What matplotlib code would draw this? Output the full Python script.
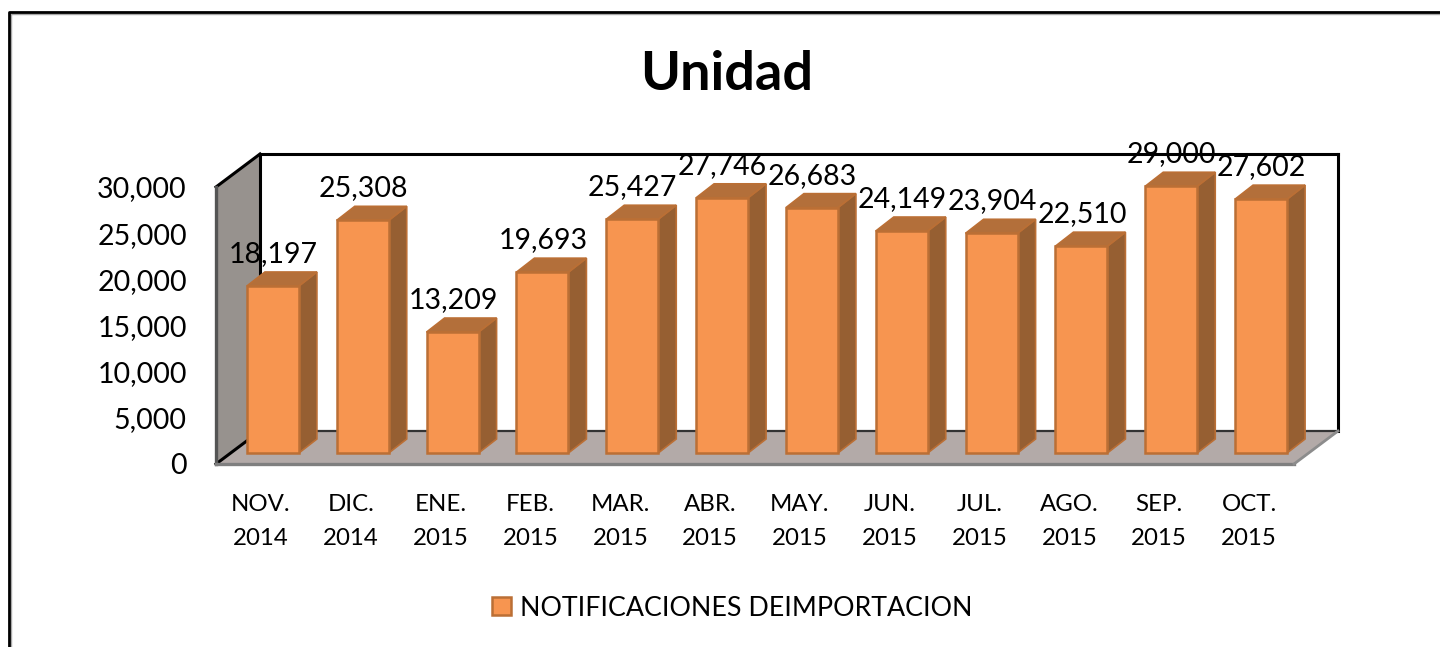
import matplotlib
matplotlib.use("Agg")
import matplotlib.pyplot as plt
from matplotlib.patches import Polygon, Patch
from matplotlib.lines import Line2D
from matplotlib.transforms import Affine2D

months = ["NOV.\n2014", "DIC.\n2014", "ENE.\n2015", "FEB.\n2015", "MAR.\n2015", "ABR.\n2015",
          "MAY.\n2015", "JUN.\n2015", "JUL.\n2015", "AGO.\n2015", "SEP.\n2015", "OCT.\n2015"]
values = [18197, 25308, 13209, 19693, 25427, 27746, 26683, 24149, 23904, 22510, 29000, 27602]
labels = ["18,197", "25,308", "13,209", "19,693", "25,427", "27,746",
          "26,683", "24,149", "23,904", "22,510", "29,000", "27,602"]
yticks = [0, 5000, 10000, 15000, 20000, 25000, 30000]
ytick_labels = ["0", "5,000", "10,000", "15,000", "20,000", "25,000", "30,000"]
series_name = "NOTIFICACIONES DEIMPORTACION"
title = "Unidad"

W, H = 1440, 647
plt.rcParams["font.family"] = ["Lato", "DejaVu Sans"]
fig = plt.figure(figsize=(W / 100, H / 100), dpi=100)
L, R, T, B = 216, 1294, 187, 464
ax = fig.add_axes([L / W, 1 - B / H, (R - L) / W, (B - T) / H])
ax.set_xlim(-0.5, len(values) - 0.5)
ax.set_ylim(0, 30000)
ax.patch.set_visible(False)
for s in ax.spines.values():
    s.set_visible(False)

# outer frame: top and left edges only, with a soft grey inner line
fig.add_artist(Line2D([10.5 / W, 10.5 / W, 1], [0, 1 - 13.5 / H, 1 - 13.5 / H], color="#a8a8a8", lw=1.0,
                      transform=fig.transFigure))
fig.add_artist(Line2D([8.5 / W, 8.5 / W, 1], [0, 1 - 11.5 / H, 1 - 11.5 / H], color="black", lw=2.0,
                      transform=fig.transFigure))

# walls and floor
x0, x1 = ax.get_xlim()
DX, DY = 44, 33
def sk(x, y, d):
    return ax.transData.transform((x, y)) + (d * DX, d * DY)
pix = Affine2D()
wall = [sk(x0, 0, 0), sk(x0, 30000, 0), sk(x0, 30000, 1), sk(x0, 0, 1)]
floor = [sk(x0, 0, 0), sk(x1, 0, 0), sk(x1, 0, 1), sk(x0, 0, 1)]
ax.add_patch(Polygon(wall, closed=True, fc="#97928e", ec="none", transform=pix, zorder=1, clip_on=False))
ax.add_patch(Polygon(floor, closed=True, fc="#b3aaa8", ec="none", transform=pix, zorder=1, clip_on=False))
def seg(a, b, color, lw=2.2):
    ax.add_line(Line2D([a[0], b[0]], [a[1], b[1]], color=color, lw=lw, transform=pix,
                       zorder=2, clip_on=False, solid_capstyle="projecting"))
seg(sk(x0, 30000, 1), sk(x1, 30000, 1), "black")
seg(sk(x1, 30000, 1), sk(x1, 0, 1), "black")
seg(sk(x0, 30000, 1), sk(x0, 0, 1), "black")
seg(sk(x0, 0, 1), sk(x1, 0, 1), "#333333", 1.6)
seg(sk(x0, 30000, 0), sk(x0, 30000, 1), "black")
seg(sk(x0, 0, 0), sk(x0, 0, 1), "black")
seg(sk(x0, 0, 0), sk(x0, 30000, 0), "#555555", 2.4)
seg(sk(x0, 0, 0), sk(x1, 0, 0), "#7f7f7f", 2.4)
seg(sk(x1, 0, 0), sk(x1, 0, 1), "#8c8c8c", 2.0)

# bars
FACE, SIDE, TOP, EDGE = "#f79550", "#965f32", "#b36f3a", "#bb6f35"
BW = 52 / ((R - L) / len(values))
ox, oy = 12, 11      # front face offset into the floor
ddx, ddy = 18, 14    # bar depth
for i, v in enumerate(values):
    a, b = i - BW / 2, i + BW / 2
    p = [ax.transData.transform(q) + (ox, oy) for q in [(a, 0), (b, 0), (b, v), (a, v)]]
    p[2] = p[2] - (0, 1)
    p[3] = p[3] - (0, 1)
    d = (ddx, ddy)
    ax.add_patch(Polygon([p[1], p[1] + d, p[2] + d, p[2]], closed=True, fc=SIDE, ec=EDGE, lw=1.2,
                         transform=pix, zorder=3, clip_on=False))
    ax.add_patch(Polygon([p[3], p[2], p[2] + d, p[3] + d], closed=True, fc=TOP, ec=EDGE, lw=1.2,
                         transform=pix, zorder=3, clip_on=False))
    ax.add_patch(Polygon(p, closed=True, fc=FACE, ec=EDGE, lw=1.8, transform=pix, zorder=4, clip_on=False))
    ax.annotate(labels[i], xy=(i, v), xytext=(12.5, 11 + 31), textcoords="offset pixels",
                ha="center", va="center", fontsize=20.5, color="black", zorder=6,
                annotation_clip=False)

# axis texts
ax.set_yticks(yticks, ytick_labels, fontsize=20.5)
ax.set_xticks(range(len(values)), months, fontsize=17.3, linespacing=1.75)
ax.tick_params(axis="y", length=0, pad=21)
ax.tick_params(axis="x", length=0, pad=21.5)

fig.text(727 / W, 1 - 74 / H, title, ha="center", va="center", fontsize=39, fontweight="bold")

leg = fig.legend(handles=[Patch(fc=FACE, ec=EDGE, lw=1.8, label=series_name)],
                 loc="center", bbox_to_anchor=(732.5 / W, 1 - 608 / H), frameon=False,
                 fontsize=19.3, handlelength=0.68, handleheight=0.68, handletextpad=0.36)

fig.savefig("out.png", dpi=100)
